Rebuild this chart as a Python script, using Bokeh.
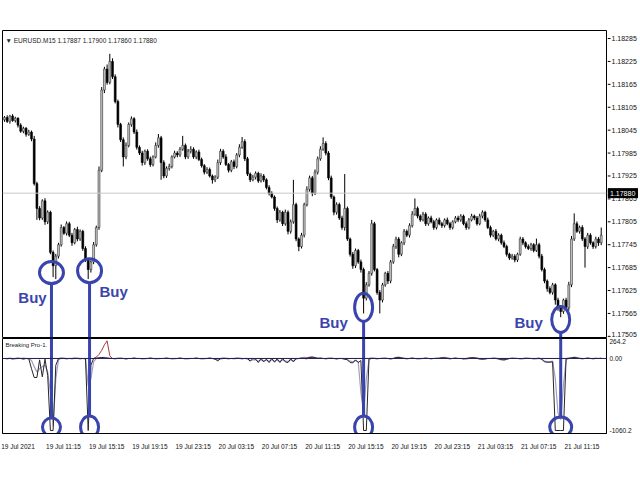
from bokeh.plotting import figure
from bokeh.models import Range1d, FixedTicker, Span, Label, ColumnDataSource
from bokeh.layouts import column, row
from bokeh.embed import file_html
from bokeh.resources import INLINE
from bokeh.core.properties import value

# ---------------- data ----------------
symbol_title = "\u25BC EURUSD.M15 1.17887 1.17900 1.17860 1.17880"
current_price = 1.17880
first_open = 1.18072

closes = [
    1.18078, 1.18068, 1.18082, 1.18070, 1.18076, 1.18058, 1.18042, 1.18050, 1.18034, 1.18040,
    1.18022, 1.17905, 1.17840, 1.17815, 1.17860, 1.17805, 1.17830, 1.17725, 1.17690, 1.17715,
    1.17745, 1.17790, 1.17775, 1.17800, 1.17770, 1.17750, 1.17785, 1.17760, 1.17780, 1.17735,
    1.17705, 1.17680, 1.17700, 1.17745, 1.17790, 1.17940, 1.18150, 1.18205, 1.18170, 1.18225,
    1.18185, 1.18120, 1.18060, 1.18020, 1.17975, 1.18005, 1.18060, 1.18075, 1.18040, 1.18000,
    1.17985, 1.17960, 1.17990, 1.17970, 1.17955, 1.17975, 1.18005, 1.18025, 1.17960, 1.17925,
    1.17945, 1.17950, 1.17975, 1.17985, 1.17980, 1.17995, 1.18005, 1.17975, 1.17990, 1.17995,
    1.17975, 1.17988, 1.17968, 1.17952, 1.17935, 1.17942, 1.17925, 1.17915, 1.17922, 1.17960,
    1.17990, 1.17975, 1.17955, 1.17940, 1.17962, 1.17950, 1.17980, 1.18000, 1.18015, 1.17970,
    1.17930, 1.17915, 1.17922, 1.17932, 1.17912, 1.17925, 1.17915, 1.17895, 1.17880, 1.17870,
    1.17840, 1.17810, 1.17830, 1.17800, 1.17830, 1.17780, 1.17805, 1.17850, 1.17760, 1.17740,
    1.17770, 1.17850, 1.17890, 1.17920, 1.17880, 1.17935, 1.17970, 1.17995, 1.18010, 1.17985,
    1.17920, 1.17870, 1.17830, 1.17850, 1.17815, 1.17790, 1.17840, 1.17760, 1.17720, 1.17690,
    1.17730, 1.17700, 1.17680, 1.17605, 1.17640, 1.17670, 1.17800, 1.17680, 1.17620, 1.17600,
    1.17640, 1.17670, 1.17650, 1.17700, 1.17740, 1.17760, 1.17720, 1.17750, 1.17780, 1.17770,
    1.17795, 1.17825, 1.17840, 1.17820, 1.17810, 1.17825, 1.17800, 1.17815, 1.17805, 1.17790,
    1.17810, 1.17800, 1.17795, 1.17810, 1.17800, 1.17790, 1.17805, 1.17815, 1.17810, 1.17820,
    1.17800, 1.17790, 1.17810, 1.17820, 1.17815, 1.17800, 1.17820, 1.17830, 1.17810, 1.17790,
    1.17770, 1.17780, 1.17760, 1.17770, 1.17750, 1.17740, 1.17720, 1.17710, 1.17715, 1.17705,
    1.17720, 1.17760, 1.17750, 1.17740, 1.17735, 1.17745, 1.17730, 1.17745, 1.17715, 1.17680,
    1.17650, 1.17630, 1.17620, 1.17640, 1.17600, 1.17580, 1.17570, 1.17600, 1.17580, 1.17640,
    1.17760, 1.17800, 1.17780, 1.17790, 1.17760, 1.17740, 1.17770, 1.17750, 1.17740, 1.17760,
    1.17750, 1.17770,
]

# wick lengths in points (1 point = 0.00001)
upper_wick_pts = [
    4, 6, 3, 5, 4, 3, 5, 4, 3, 6,
    4, 8, 5, 6, 4, 7, 5, 4, 5, 6,
    5, 8, 4, 6, 5, 6, 4, 7, 5, 4,
    6, 5, 4, 7, 5, 10, 8, 6, 12, 20,
    8, 6, 5, 4, 6, 8, 5, 6, 4, 7,
    5, 6, 4, 5, 6, 4, 8, 10, 5, 6,
    5, 7, 4, 6, 5, 6, 25, 5, 6, 8,
    5, 4, 6, 5, 4, 6, 5, 4, 5, 8,
    6, 5, 7, 4, 5, 6, 5, 8, 12, 6,
    5, 4, 6, 5, 4, 7, 5, 4, 6, 5,
    4, 5, 6, 4, 7, 5, 6, 65, 5, 4,
    6, 5, 8, 6, 5, 7, 6, 8, 16, 6,
    5, 6, 4, 6, 5, 6, 90, 5, 4, 6,
    5, 4, 6, 5, 7, 6, 10, 5, 4, 6,
    5, 4, 6, 5, 7, 6, 5, 4, 6, 5,
    6, 8, 26, 5, 4, 6, 5, 4, 6, 5,
    4, 6, 5, 4, 6, 5, 4, 5, 6, 5,
    4, 6, 5, 6, 4, 5, 6, 5, 4, 6,
    5, 4, 6, 5, 4, 6, 5, 4, 6, 5,
    4, 6, 5, 4, 6, 5, 4, 16, 5, 6,
    5, 4, 6, 5, 4, 6, 5, 4, 6, 8,
    8, 27, 6, 5, 6, 5, 6, 5, 4, 6,
    5, 20,
]
lower_wick_pts = [
    5, 4, 6, 3, 5, 6, 4, 5, 6, 4,
    6, 5, 30, 6, 5, 8, 6, 5, 30, 35,
    6, 5, 4, 6, 5, 8, 4, 6, 5, 6,
    5, 25, 8, 6, 5, 6, 5, 8, 6, 5,
    6, 5, 8, 6, 25, 6, 5, 6, 5, 6,
    5, 8, 6, 5, 6, 5, 4, 6, 45, 6,
    5, 6, 5, 4, 6, 5, 4, 6, 5, 6,
    5, 6, 4, 5, 6, 5, 4, 10, 6, 5,
    6, 5, 4, 6, 5, 7, 5, 6, 4, 6,
    5, 6, 4, 6, 5, 4, 6, 5, 6, 4,
    6, 8, 5, 6, 5, 8, 6, 5, 6, 12,
    5, 6, 5, 6, 8, 5, 6, 5, 4, 6,
    6, 5, 8, 6, 5, 6, 8, 5, 6, 8,
    6, 5, 8, 40, 6, 5, 6, 5, 6, 35,
    6, 5, 8, 6, 5, 6, 8, 5, 6, 5,
    6, 5, 4, 6, 5, 4, 6, 5, 4, 6,
    5, 4, 6, 5, 4, 6, 5, 4, 6, 5,
    4, 6, 5, 4, 6, 5, 4, 6, 5, 4,
    6, 5, 4, 6, 5, 4, 6, 5, 4, 6,
    5, 4, 6, 5, 4, 6, 5, 4, 6, 5,
    6, 8, 5, 6, 12, 8, 15, 6, 5, 8,
    6, 5, 4, 6, 5, 55, 6, 5, 6, 5,
    8, 6,
]

price_ticks = [1.17505, 1.17565, 1.17625, 1.17685, 1.17745, 1.17805, 1.17865,
               1.17925, 1.17985, 1.18045, 1.18105, 1.18165, 1.18225, 1.18285]

time_label_bars = [0, 15, 31, 47, 63, 79, 95, 111, 127, 143, 159, 175, 191, 207]
time_labels = ["19 Jul 2021", "19 Jul 11:15", "19 Jul 15:15", "19 Jul 19:15",
               "19 Jul 23:15", "20 Jul 03:15", "20 Jul 07:15", "20 Jul 11:15",
               "20 Jul 15:15", "20 Jul 19:15", "20 Jul 23:15", "21 Jul 03:15",
               "21 Jul 07:15", "21 Jul 11:15"]

indicator_name = "Breaking Pro-1."
ind_main = [
    0, -5, 0, -8, 0, 5, 0, -10, 0, -5,
    -150, -280, -280, -20, -270, -10, -250, -1060, -1060, -100,
    0, 5, 0, -5, 0, 0, 5, 0, -5, 0,
    0, -1060, -100, 0, 5, 10, 15, 10, 5, 0,
    0, -5, 0, 5, 0, -5, 0, 0, 5, 0,
    0, -5, 0, 0, 5, 0, -5, 0, 0, 0,
    5, 0, -5, 0, 0, 5, 0, -5, 0, 0,
    0, 5, 0, -5, 0, 0, 5, 0, -10, -35,
    0, 5, 0, -5, 0, 0, 5, 0, -5, 0,
    0, -40, 0, -10, -60, 0, -50, -10, -60, 0,
    -55, -5, -60, 0, -50, -60, -5, -50, 0, 0,
    5, 0, -5, 15, 20, 10, 0, 5, 0, -5,
    0, 5, 0, -5, 0, 0, -10, -20, -60, -65,
    -20, -60, -30, -1060, -1060, 0, 5, 0, -5, 0,
    0, 5, 0, -5, 0, 10, 15, 5, 0, -5,
    0, 5, 0, -5, 0, 0, 5, 0, -5, 0,
    0, 5, 10, 5, 0, -5, 0, 5, 0, 0,
    -5, 0, 5, 10, 5, 0, -5, -10, -5, 0,
    0, 5, 0, -5, -15, -20, -10, 0, 5, 0,
    0, -5, 0, 5, 0, 0, -5, 0, 5, -10,
    -50, -55, -55, -50, -1060, -1060, -1060, -1060, 0, 5,
    10, 15, 5, 0, -5, 0, 5, 0, -5, 0,
    0, 5,
]
ind_signal = [
    0, 0, 5, 0, -5, 0, 0, 5, 0, 0,
    -30, -120, -200, -150, -120, -100, -200, -500, -1000, -300,
    -20, 0, 5, 0, 0, -5, 0, 5, 0, 0,
    -10, -400, -300, -50, 0, 5, 10, 15, 10, 5,
    0, 0, 5, 0, 0, -5, 0, 0, 5, 0,
    0, 0, -5, 0, 5, 0, 0, -5, 0, 0,
    5, 0, 0, -5, 0, 5, 0, 0, -5, 0,
    0, 5, 0, 0, -5, 0, 5, 0, -5, -20,
    -10, 0, 5, 0, 0, -5, 0, 5, 0, 0,
    -10, -30, -20, -20, -40, -20, -35, -25, -40, -20,
    -40, -25, -45, -20, -35, -45, -20, -35, -10, 0,
    10, 15, 10, 20, 25, 15, 10, 5, 0, 0,
    5, 0, 0, -5, 0, 0, -10, -15, -40, -50,
    -30, -50, -500, -800, -300, -20, 0, 5, 0, 0,
    5, 0, 0, -5, 0, 15, 20, 10, 5, 0,
    0, 5, 0, 0, -5, 0, 5, 0, 0, 0,
    5, 0, 10, 15, 10, 0, 0, 5, 0, 0,
    -5, -10, 0, 10, 15, 5, -10, -15, -10, 0,
    0, 0, 5, -10, -20, -25, -15, 0, 0, 5,
    0, 0, -5, 0, 5, 0, 0, -5, 0, -10,
    -40, -45, -45, -40, -300, -800, -900, -400, -20, 0,
    5, 20, 15, 5, 0, 0, 5, 0, 0, 5,
    0, 0,
]
ind_slow = [
    0, 0, 0, 0, 0, 0, 0, 0, 0, 0,
    0, 0, 0, 0, 0, 0, 0, 0, 0, 0,
    0, 0, 0, 0, 0, 0, 0, 0, 0, 0,
    0, 0, 0, 0, 20, 60, 120, 200, 260, 40,
    0, 0, 0, 0, 0, 0, 0, 0, 0, 0,
    0, 0, 0, 0, 0, 0, 0, 0, 0, 0,
    0, 0, 0, 0, 0, 0, 0, 0, 0, 0,
    0, 0, 0, 0, 0, 0, 0, 0, 0, 0,
    0, 0, 0, 0, 0, 0, 0, 0, 0, 0,
    0, 0, 0, 0, 0, 0, 0, 0, 0, 0,
    0, 0, 0, 0, 0, 0, 0, 0, 0, 0,
    0, 5, 10, 15, 10, 5, 0, 0, 0, 0,
    0, 0, 0, 0, 0, 0, 0, 0, 0, 0,
    0, 0, 0, 0, 0, 0, 0, 0, 0, 0,
    0, 0, 0, 0, 0, 10, 15, 10, 0, 0,
    0, 0, 0, 0, 0, 0, 0, 0, 0, 0,
    0, 0, 5, 10, 5, 0, 0, 0, 0, 0,
    0, 0, 5, 10, 10, 5, 0, 0, 0, 0,
    0, 0, 0, 0, 0, 0, 0, 0, 0, 0,
    0, 0, 0, 0, 0, 0, 0, 0, 0, 0,
    0, 0, 0, 0, 0, 0, 0, 0, 0, 0,
    0, 10, 5, 0, 0, 0, 0, 0, 0, 0,
    0, 0,
]
ind_ticks = [264.2, 0.0, -1060.2]
ind_tick_labels = ["264.2", "0.00", "-1060.2"]

# hand-drawn "Buy" markings
buy_bars = [17.4, 31.5, 133.0, 206.0]
buy_prices = [1.17672, 1.17677, 1.17581, 1.17549]
buy_ind_levels = [-1010, -1010, -1010, -1010]
buy_text = ["Buy", "Buy", "Buy", "Buy"]

# ---------------- styles / geometry ----------------
BLUE = "#3a44ad"
FONT = "Liberation Sans"
FRAME_W, MAIN_H, IND_H = 604, 307, 95
SCALE_W = 31
FRAME_LEFT, MAIN_TOP, IND_TOP = 2, 30, 338
X0, X1 = -0.74, 222.96
P0, P1 = 1.17502, 1.18306
I0, I1 = -1104.0, 294.0
bar_per_px = (X1 - X0) / FRAME_W
price_per_px = (P1 - P0) / MAIN_H
ind_per_px = (I1 - I0) / IND_H

top_circle_w = [24, 24, 18, 18]
top_circle_h = [22, 24, 28, 26]
bot_circle_w = [18, 18, 18, 22]
bot_circle_h = [18, 22, 22, 20]
text_dx = [-19, 24, -30, -32]
text_dy = [25, 21, 15, 3]
label_shift_px = [13.5] + [18.5] * 13
price_label_dy = [-2] + [0] * 13   # keep the lowest scale label inside the strip


def px_to_bar(px):
    return X0 + (px - FRAME_LEFT) * bar_per_px


def py_to_price(py):
    return P1 - (py - MAIN_TOP) * price_per_px


def py_to_ind(py):
    return I1 - (py - IND_TOP) * ind_per_px


n = len(closes)
xs = list(range(n))
opens = [first_open] + closes[:-1]
highs = [max(o, c) + u * 1e-5 for o, c, u in zip(opens, closes, upper_wick_pts)]
lows = [min(o, c) - d * 1e-5 for o, c, d in zip(opens, closes, lower_wick_pts)]

bull = [i for i in xs if closes[i] >= opens[i]]
bear = [i for i in xs if closes[i] < opens[i]]

# ---------------- main price panel ----------------
p1 = figure(frame_width=FRAME_W, frame_height=MAIN_H,
            x_range=Range1d(X0, X1), y_range=Range1d(P0, P1),
            x_axis_location=None, y_axis_location=None,
            output_backend="svg", toolbar_location=None,
            min_border_left=FRAME_LEFT, min_border_top=MAIN_TOP, min_border_bottom=1,
            min_border_right=1, outline_line_color="black",
            background_fill_color="white", border_fill_color="white")
p1.grid.visible = False

p1.add_layout(Span(location=current_price, dimension="width",
                   line_color="#c8c8c8", line_width=1))

p1.segment(x0=xs, y0=highs, x1=xs, y1=lows, line_color="black", line_width=1)
p1.vbar(x=[i for i in bear], width=0.7,
        top=[opens[i] for i in bear], bottom=[closes[i] for i in bear],
        fill_color="black", line_color="black", line_width=0.6)
p1.vbar(x=[i for i in bull], width=0.7,
        top=[closes[i] for i in bull], bottom=[opens[i] for i in bull],
        fill_color="#c8c8c8", line_color="#303030", line_width=0.6)

p1.add_layout(Label(x=px_to_bar(5), y=py_to_price(40), text=symbol_title,
                    text_font=FONT, text_font_size="6.5px", text_color="#222222",
                    text_baseline="middle", text_align="left"))

# Buy markings on the price panel
p1.ellipse(x=buy_bars, y=buy_prices, width=top_circle_w, height=top_circle_h,
           width_units="screen", height_units="screen",
           fill_color=None, line_color=BLUE, line_width=3)
p1.segment(x0=buy_bars,
           y0=[bp - h / 2 * price_per_px for bp, h in zip(buy_prices, top_circle_h)],
           x1=buy_bars, y1=[P0] * len(buy_bars),
           line_color=BLUE, line_width=3)
p1.text(x=[b + dx * bar_per_px for b, dx in zip(buy_bars, text_dx)],
        y=[bp - dy * price_per_px for bp, dy in zip(buy_prices, text_dy)],
        text=buy_text, text_font=value(FONT), text_font_style="bold",
        text_font_size="15px", text_color=BLUE,
        text_align="center", text_baseline="middle")

# ---------------- price scale strip (right of the main panel) ----------------
pa = figure(frame_width=SCALE_W, frame_height=MAIN_H + 1,
            x_range=Range1d(0, SCALE_W), y_range=Range1d(P0 - price_per_px, P1),
            x_axis_location=None, y_axis_location=None,
            output_backend="svg", toolbar_location=None,
            min_border_left=0, min_border_right=0, min_border_top=MAIN_TOP,
            min_border_bottom=0, outline_line_color=None,
            background_fill_color="white", border_fill_color="white")
pa.grid.visible = False
pa.segment(x0=[0] * len(price_ticks), y0=price_ticks, x1=[3] * len(price_ticks),
           y1=price_ticks, line_color="black", line_width=1)
scale_src = ColumnDataSource(dict(
    x=[4] * len(price_ticks), y=price_ticks,
    text=["%.5f" % t for t in price_ticks], dy=price_label_dy))
pa.text(x="x", y="y", text="text", y_offset="dy", source=scale_src,
        text_font=value(FONT), text_font_size="7px", text_color="#111111",
        text_align="left", text_baseline="middle")
# current price marker: black box with white price
pa.rect(x=[15.5], y=[current_price], width=[30], height=[9],
        width_units="screen", height_units="screen",
        fill_color="black", line_color="black")
pa.text(x=[2.5], y=[current_price], text=["%.5f" % current_price],
        text_font=value(FONT), text_font_size="7px", text_color="white",
        text_align="left", text_baseline="middle")

# ---------------- indicator panel ----------------
p2 = figure(frame_width=FRAME_W, frame_height=IND_H,
            x_range=p1.x_range, y_range=Range1d(I0, I1),
            y_axis_location="right", x_axis_location="below",
            output_backend="svg", toolbar_location=None,
            min_border_left=FRAME_LEFT, min_border_top=0, min_border_bottom=14,
            min_border_right=30, outline_line_color="black",
            background_fill_color="white", border_fill_color="white")
p2.grid.visible = False
ya2 = p2.yaxis[0]
ya2.ticker = FixedTicker(ticks=ind_ticks)
ya2.major_label_overrides = {t: s for t, s in zip(ind_ticks, ind_tick_labels)}
ya2.major_label_text_font = FONT
ya2.major_label_text_font_size = "6.5px"
ya2.major_label_text_color = "#111111"
ya2.major_tick_out = 0
ya2.major_tick_in = 0
ya2.minor_tick_line_color = None
ya2.major_label_standoff = 3
ya2.axis_line_color = "black"

tick_pos = [round(b + s * bar_per_px, 3) for b, s in zip(time_label_bars, label_shift_px)]
xa = p2.xaxis[0]
xa.ticker = FixedTicker(ticks=tick_pos)
xa.major_label_overrides = {t: s for t, s in zip(tick_pos, time_labels)}
xa.major_label_text_font = FONT
xa.major_label_text_font_size = "6.5px"
xa.major_label_text_color = "#111111"
xa.major_tick_line_color = None
xa.minor_tick_line_color = None
xa.major_label_standoff = 3
xa.axis_line_color = "black"

p2.line(xs, ind_signal, line_color="#a29ec4", line_width=1.2)
p2.line(xs, ind_slow, line_color="#a83a3a", line_width=1)
p2.line(xs, ind_main, line_color="#262626", line_width=1)
p2.add_layout(Span(location=0, dimension="width", line_color="#22225a", line_width=1))

p2.add_layout(Label(x=px_to_bar(5), y=py_to_ind(344), text=indicator_name,
                    text_font=FONT, text_font_size="6px", text_color="#222222",
                    text_baseline="middle", text_align="left"))

p2.ellipse(x=buy_bars, y=buy_ind_levels, width=bot_circle_w, height=bot_circle_h,
           width_units="screen", height_units="screen",
           fill_color=None, line_color=BLUE, line_width=3)
p2.segment(x0=buy_bars, y0=[I1] * len(buy_bars), x1=buy_bars,
           y1=[lv + h / 2 * ind_per_px for lv, h in zip(buy_ind_levels, bot_circle_h)],
           line_color=BLUE, line_width=3)

layout = column(row(p1, pa, spacing=0), p2, spacing=0)
open("out.html", "w").write(file_html(layout, INLINE))
